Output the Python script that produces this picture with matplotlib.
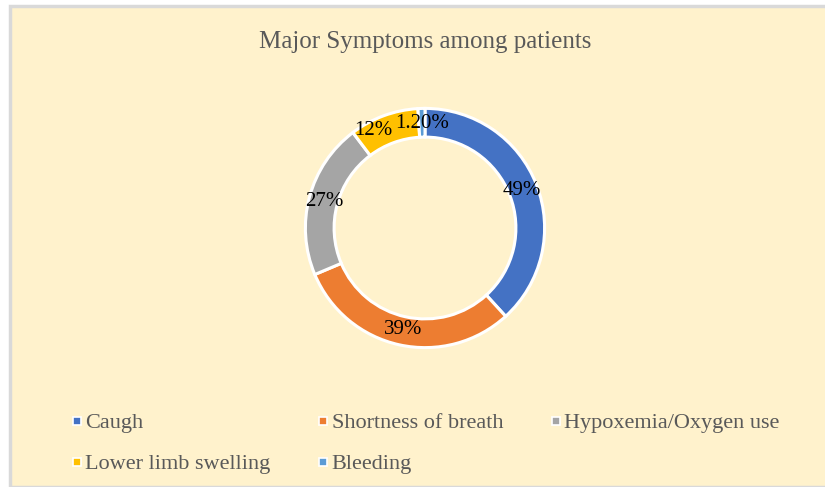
import matplotlib.pyplot as plt
from matplotlib.patches import Rectangle
from matplotlib.lines import Line2D

categories = ["Caugh", "Shortness of breath", "Hypoxemia/Oxygen use",
              "Lower limb swelling", "Bleeding"]
values = [49, 39, 27, 12, 1.2]
value_labels = ["49%", "39%", "27%", "12%", "1.20%"]
colors = ["#4472C4", "#ED7D31", "#A5A5A5", "#FFC000", "#5B9BD5"]

plt.rcParams['font.family'] = ['Liberation Serif', 'DejaVu Serif']

W, H = 825, 487
fig = plt.figure(figsize=(W / 100, H / 100), dpi=100, facecolor="white")

# chart area with thin grey border (top/left visible)
fig.patches.append(Rectangle((10 / W, 0), 1.0, 1 - 6 / H, transform=fig.transFigure,
                             facecolor="#FFF2CC", edgecolor="#D9D9D9", lw=2.5, zorder=-5))

# donut, centre ~ (425, 228) px, outer radius ~122 px
cx, cy, r = 425, 228, 122
ax = fig.add_axes([(cx - r) / W, 1 - (cy + r) / H, 2 * r / W, 2 * r / H])
ax.set_zorder(2)
ax.patch.set_visible(False)
wedges, texts = ax.pie(values, labels=value_labels, colors=colors, startangle=90,
                       counterclock=False, radius=1.0, labeldistance=0.87,
                       wedgeprops=dict(width=0.24, edgecolor="white", linewidth=2.2),
                       textprops=dict(fontsize=15, color="#000000"))
for t in texts:
    t.set_ha("center")
    t.set_va("center")
# the small "12%" label sits a bit further left in the reference
x, y = texts[3].get_position()
texts[3].set_position((x - 0.13, y))
ax.set_xlim(-1.02, 1.02)
ax.set_ylim(-1.02, 1.02)
ax.set_aspect("equal")
ax.axis("off")

fig.text(cx / W, 1 - 42 / H, "Major Symptoms among patients", ha="center", va="center",
         fontsize=18, color="#595959")

handles = [Line2D([], [], marker="s", linestyle="none", markersize=6,
                  markerfacecolor=c, markeredgecolor="white", markeredgewidth=1.2)
           for c in colors]
# legend fills column by column, so reorder to read row-wise like the reference
order = [0, 3, 1, 4, 2]
fig.legend([handles[i] for i in order], [categories[i] for i in order], ncol=3,
           loc="upper left", bbox_to_anchor=(61 / W, 1 - 404 / H), frameon=False,
           fontsize=16, labelcolor="#595959", handlelength=0.6, handletextpad=0.1,
           columnspacing=2.05, labelspacing=0.92, borderaxespad=0)

fig.savefig("out.png", dpi=100, facecolor=fig.get_facecolor())
